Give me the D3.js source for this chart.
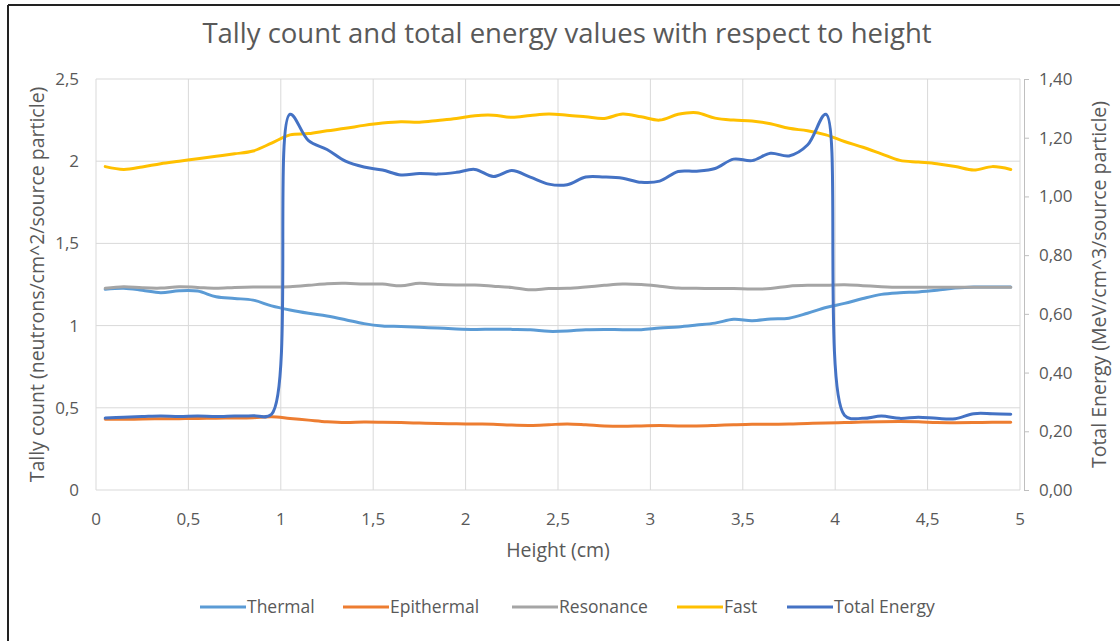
<!doctype html>
<meta charset="utf-8">
<style>
body { margin: 0; background: #fff; }
text { font-family: "Open Sans", Lato, sans-serif; fill: #595959; }
.grid line { stroke: #d9d9d9; stroke-width: 1; }
.series { fill: none; stroke-width: 3; stroke-linejoin: round; stroke-linecap: round; }
</style>
<body>
<div id="viz"></div>
<script src="https://cdn.jsdelivr.net/npm/d3@7/dist/d3.min.js"></script>
<script>
// heights (cm)
var heights = [0.05,0.15,0.25,0.35,0.45,0.55,0.65,0.75,0.85,0.95,
  1.05,1.15,1.25,1.35,1.45,1.55,1.65,1.75,1.85,1.95,
  2.05,2.15,2.25,2.35,2.45,2.55,2.65,2.75,2.85,2.95,
  3.05,3.15,3.25,3.35,3.45,3.55,3.65,3.75,3.85,3.95,
  4.05,4.15,4.25,4.35,4.45,4.55,4.65,4.75,4.85,4.95];

// tally counts (left axis)
var thermal = [1.221,1.227,1.215,1.2,1.212,1.21,1.175,1.165,1.155,1.12,
  1.095,1.075,1.058,1.036,1.012,0.998,0.995,0.99,0.985,0.98,
  0.977,0.978,0.977,0.975,0.965,0.967,0.975,0.977,0.975,0.975,
  0.985,0.992,1.003,1.015,1.038,1.03,1.04,1.045,1.075,1.11,
  1.135,1.165,1.19,1.2,1.205,1.215,1.228,1.235,1.235,1.235];
var epithermal = [0.43,0.43,0.432,0.433,0.434,0.435,0.437,0.438,0.44,0.445,
  0.435,0.425,0.415,0.41,0.413,0.412,0.41,0.407,0.404,0.403,
  0.401,0.4,0.395,0.393,0.397,0.402,0.397,0.39,0.388,0.39,
  0.392,0.39,0.39,0.393,0.397,0.4,0.4,0.401,0.405,0.407,
  0.41,0.413,0.415,0.416,0.415,0.41,0.409,0.41,0.412,0.412];
var resonance = [1.227,1.237,1.23,1.228,1.237,1.232,1.227,1.232,1.235,1.235,
  1.237,1.245,1.255,1.257,1.253,1.253,1.242,1.257,1.25,1.247,
  1.247,1.24,1.232,1.218,1.225,1.227,1.235,1.245,1.253,1.25,
  1.24,1.228,1.227,1.225,1.225,1.222,1.225,1.24,1.245,1.245,
  1.248,1.243,1.237,1.233,1.233,1.233,1.233,1.233,1.233,1.233];
var fast = [1.967,1.95,1.965,1.985,2.0,2.015,2.03,2.045,2.062,2.11,
  2.16,2.168,2.185,2.2,2.218,2.232,2.24,2.237,2.248,2.26,
  2.277,2.28,2.267,2.278,2.287,2.28,2.27,2.26,2.287,2.27,
  2.25,2.285,2.295,2.262,2.25,2.245,2.228,2.2,2.185,2.16,
  2.12,2.085,2.045,2.005,1.995,1.985,1.968,1.946,1.967,1.95];
// total energy (right axis)
var totalEnergy = [0.245,0.248,0.25,0.252,0.25,0.252,0.25,0.252,0.253,0.258,
  1.28,1.19,1.16,1.12,1.1,1.09,1.073,1.078,1.076,1.082,
  1.092,1.068,1.088,1.066,1.042,1.04,1.066,1.066,1.062,1.048,
  1.052,1.085,1.086,1.095,1.127,1.122,1.147,1.138,1.175,1.28,
  0.255,0.244,0.252,0.244,0.248,0.244,0.243,0.26,0.26,0.258];

var xTicks = [0,0.5,1,1.5,2,2.5,3,3.5,4,4.5,5];
var yTicks = [0,0.5,1,1.5,2,2.5];
var y2Ticks = [0,0.2,0.4,0.6,0.8,1.0,1.2,1.4];

var W = 1120, H = 641;
var margin = {top: 79, right: 100, bottom: 151, left: 96};
var svg = d3.select("#viz").append("svg").attr("width", W).attr("height", H);

// frame (top and left edges of the screenshot)
svg.append("line").attr("x1", 8).attr("x2", W).attr("y1", 5).attr("y2", 5).attr("stroke", "#222").attr("stroke-width", 2);
svg.append("line").attr("x1", 8).attr("x2", 8).attr("y1", 5).attr("y2", H).attr("stroke", "#222").attr("stroke-width", 2);

var x = d3.scaleLinear().domain([0, 5]).range([margin.left, 1020]);
var y = d3.scaleLinear().domain([0, 2.5]).range([H - margin.bottom, margin.top]);
var y2 = d3.scaleLinear().domain([0, 1.4]).range([H - margin.bottom, margin.top]);

var fmt = function(d) { return String(d).replace(".", ","); };
var fmt2 = function(d) { return d3.format(".2f")(d).replace(".", ","); };

// gridlines
var g = svg.append("g").attr("class", "grid");
g.selectAll(".hg").data(yTicks).enter().append("line")
  .attr("x1", x(0)).attr("x2", x(5)).attr("y1", d => y(d)).attr("y2", d => y(d));
g.selectAll(".vg").data(xTicks).enter().append("line")
  .attr("x1", d => x(d)).attr("x2", d => x(d)).attr("y1", y(0)).attr("y2", y(2.5));

// left axis labels
svg.append("g").selectAll("text").data(yTicks).enter().append("text")
  .attr("x", 79).attr("y", d => y(d)).attr("dy", "0.35em").attr("text-anchor", "end")
  .attr("font-size", 17).text(fmt);

// x axis labels
svg.append("g").selectAll("text").data(xTicks).enter().append("text")
  .attr("x", d => x(d)).attr("y", 525).attr("text-anchor", "middle")
  .attr("font-size", 17).text(fmt);

// right axis
var ra = svg.append("g").attr("transform", "translate(" + (x(5) + 4) + ",0)")
  .call(d3.axisRight(y2).tickValues(y2Ticks).tickSize(5).tickPadding(10).tickFormat(fmt2));
ra.select(".domain").attr("stroke", "#bfbfbf");
ra.selectAll(".tick line").attr("stroke", "#bfbfbf");
ra.selectAll(".tick text").attr("font-size", 17).attr("fill", "#595959")
  .style("font-family", "'Open Sans', Lato, sans-serif");

// titles
svg.append("text").attr("x", 567).attr("y", 43).attr("text-anchor", "middle")
  .attr("font-size", 27.5).text("Tally count and total energy values with respect to height");
svg.append("text").attr("x", x(2.5)).attr("y", 557).attr("text-anchor", "middle")
  .attr("font-size", 19.5).text("Height (cm)");
svg.append("text").attr("transform", "translate(37," + y(1.25) + ") rotate(-90)")
  .attr("text-anchor", "middle").attr("dy", "0.35em").attr("font-size", 19.5)
  .text("Tally count (neutrons/cm^2/source particle)");
svg.append("text").attr("transform", "translate(1099," + y2(0.7) + ") rotate(-90)")
  .attr("text-anchor", "middle").attr("dy", "0.35em").attr("font-size", 19.5)
  .text("Total Energy (MeV/cm^3/source particle)");

// series
var series = [
  {name: "Thermal", values: thermal, color: "#5b9bd5", scale: y},
  {name: "Epithermal", values: epithermal, color: "#ed7d31", scale: y},
  {name: "Resonance", values: resonance, color: "#a5a5a5", scale: y},
  {name: "Fast", values: fast, color: "#ffc000", scale: y},
  {name: "Total Energy", values: totalEnergy, color: "#4472c4", scale: y2}
];

series.forEach(function(s) {
  var line = d3.line().x((d, i) => x(heights[i])).y(d => s.scale(d)).curve(d3.curveCatmullRom.alpha(0.5));
  svg.append("path").datum(s.values).attr("class", "series").attr("stroke", s.color).attr("d", line);
});

// legend
var legX = [200, 343, 512, 677, 787];
var leg = svg.append("g").selectAll("g").data(series).enter().append("g")
  .attr("transform", (d, i) => "translate(" + legX[i] + ",607)");
leg.append("line").attr("x1", 0).attr("x2", 46).attr("stroke", d => d.color).attr("stroke-width", 3);
leg.append("text").attr("x", 47).attr("dy", "0.35em").attr("font-size", 17.5).text(d => d.name);
</script>
</body>
</html>
